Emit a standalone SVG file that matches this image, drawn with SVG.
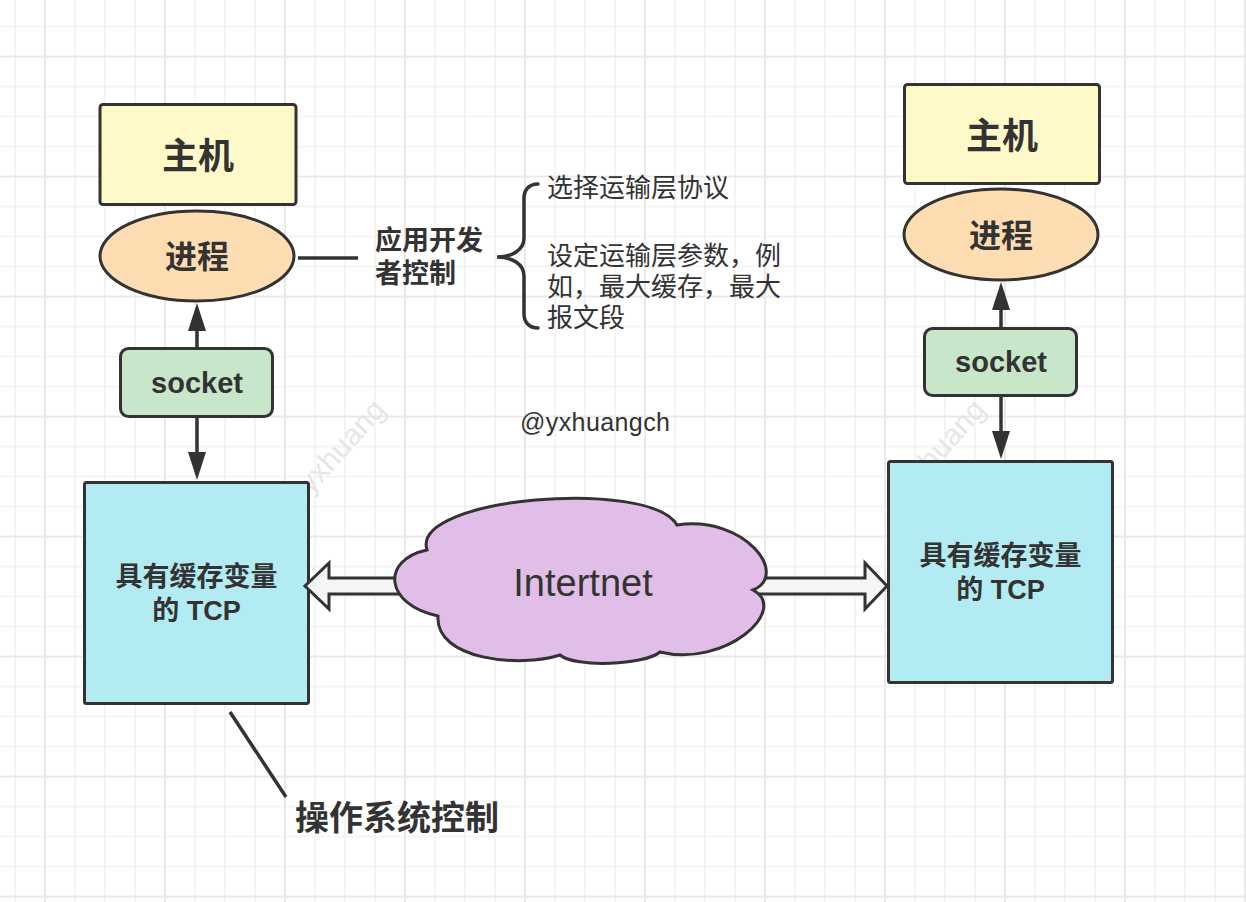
<svg xmlns="http://www.w3.org/2000/svg" width="1246" height="902" viewBox="0 0 1246 902">
  <defs>
    <pattern id="grid" patternUnits="userSpaceOnUse" x="30" y="41.5" width="120" height="120">
      <path d="M45 0V120M75 0V120M105 0V120M0 45H120M0 75H120M0 105H120" stroke="#f1f1f1" stroke-width="1.5" fill="none"/>
      <path d="M15 0V120M0 15H120" stroke="#e9e9e9" stroke-width="2" fill="none"/>
    </pattern>
    <marker id="ah" markerUnits="userSpaceOnUse" markerWidth="30" markerHeight="20" refX="0" refY="9" orient="auto" viewBox="0 0 30 18">
      <path d="M0 0L28 9L0 18Z" fill="#333"/>
    </marker>
    <style>
      .t { font-family: "Liberation Sans", "Noto Sans CJK SC", sans-serif; fill: #333; }
      .b { font-weight: 700; }
      .node { stroke: #333; stroke-width: 3; }
      .host { fill: #fff8c9; }
      .proc { fill: #ffddb3; }
      .sock { fill: #c8e6c9; }
      .tcp { fill: #b2ebf2; }
      .cloud { fill: #e1bee7; }
      .edge { stroke: #333; stroke-width: 3.5; fill: none; }
      .hollow { fill: #f5f5f5; stroke: #333; stroke-width: 3; stroke-linejoin: miter; }
      .wm { font-family: "Liberation Sans", sans-serif; font-size: 30px; fill: #e6e6e6; }
    </style>
  </defs>

  <rect x="0" y="0" width="1246" height="902" fill="#ffffff"/>
  <rect x="0" y="0" width="1246" height="902" fill="url(#grid)"/>

  <g id="watermarks">
    <text class="wm" transform="translate(311,495) rotate(-48)">yxhuang</text>
    <text class="wm" transform="translate(911,495) rotate(-48)">yxhuang</text>
  </g>

  <g id="host-left">
    <rect class="node host" x="100" y="104.5" width="196" height="100" rx="3"/>
    <text class="t b" x="198" y="169" font-size="36" text-anchor="middle">主机</text>
  </g>
  <g id="process-left">
    <ellipse class="node proc" cx="197" cy="256" rx="97" ry="45"/>
    <text class="t b" x="197" y="268" font-size="32" text-anchor="middle">进程</text>
  </g>
  <g id="socket-left">
    <rect class="node sock" x="120.5" y="348.5" width="152" height="68" rx="8"/>
    <text class="t b" x="197" y="393" font-size="29" text-anchor="middle">socket</text>
  </g>
  <g id="tcp-left">
    <rect class="node tcp" x="84.5" y="482.5" width="224" height="221" rx="2"/>
    <text class="t b" x="196.5" y="586" font-size="27" text-anchor="middle">具有缓存变量</text>
    <text class="t b" x="196.5" y="620" font-size="27" text-anchor="middle">的 TCP</text>
  </g>

  <g id="host-right">
    <rect class="node host" x="904.5" y="84.5" width="195" height="99" rx="3"/>
    <text class="t b" x="1002" y="149" font-size="36" text-anchor="middle">主机</text>
  </g>
  <g id="process-right">
    <ellipse class="node proc" cx="1001" cy="234.5" rx="97" ry="45.5"/>
    <text class="t b" x="1001" y="246.5" font-size="32" text-anchor="middle">进程</text>
  </g>
  <g id="socket-right">
    <rect class="node sock" x="924.5" y="328.5" width="152" height="67" rx="8"/>
    <text class="t b" x="1001" y="372" font-size="29" text-anchor="middle">socket</text>
  </g>
  <g id="tcp-right">
    <rect class="node tcp" x="888.5" y="461.5" width="224" height="221" rx="2"/>
    <text class="t b" x="1000.5" y="565" font-size="27" text-anchor="middle">具有缓存变量</text>
    <text class="t b" x="1000.5" y="599" font-size="27" text-anchor="middle">的 TCP</text>
  </g>

  <g id="connectors">
    <line class="edge" x1="197" y1="348" x2="197" y2="331" marker-end="url(#ah)"/>
    <line class="edge" x1="197" y1="418" x2="197" y2="452" marker-end="url(#ah)"/>
    <line class="edge" x1="1001" y1="328" x2="1001" y2="310" marker-end="url(#ah)"/>
    <line class="edge" x1="1001" y1="397" x2="1001" y2="431" marker-end="url(#ah)"/>
    <polygon class="hollow" points="410,578 329,578 329,563 305,586 329,609 329,594 410,594"/>
    <polygon class="hollow" points="740,578 865,578 865,563 887,586 865,609 865,594 740,594"/>
    <line class="edge" x1="298" y1="258" x2="358" y2="258"/>
    <line class="edge" x1="230" y1="712" x2="286" y2="797"/>
  </g>

  <g id="internet">
    <path class="node cloud" d="M427,550 C410,497 650,478 677,525 C745,515 790,575 753,590 C790,610 725,668 660,652 C645,665 575,668 560,655 C520,668 435,660 438,616 C385,605 380,560 427,550 Z"/>
    <text class="t" x="583" y="596" font-size="38" text-anchor="middle">Intertnet</text>
  </g>

  <g id="app-control">
    <text class="t b" x="375" y="250" font-size="27">应用开发</text>
    <text class="t b" x="375" y="283" font-size="27">者控制</text>
    <path class="edge" stroke-linecap="round" d="M538,184 C529,184 524,190 524,198 L524,238 C524,250 512,257 497,257 C512,257 524,264 524,276 L524,314 C524,322 529,328 538,328"/>
    <text class="t" x="547" y="197" font-size="26">选择运输层协议</text>
    <text class="t" x="547" y="265" font-size="26">设定运输层参数，例</text>
    <text class="t" x="547" y="296" font-size="26">如，最大缓存，最大</text>
    <text class="t" x="547" y="327" font-size="26">报文段</text>
  </g>

  <g id="os-control">
    <text class="t b" x="295" y="830" font-size="34">操作系统控制</text>
  </g>

  <g id="author">
    <text class="t" x="520" y="431" font-size="25" textLength="150" lengthAdjust="spacing">@yxhuangch</text>
  </g>
</svg>
